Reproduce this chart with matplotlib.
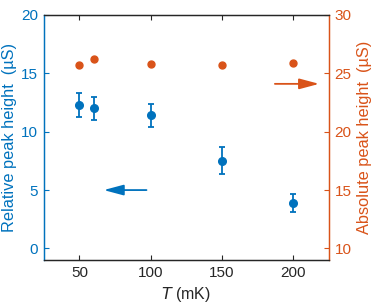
import matplotlib
matplotlib.use("Agg")
import matplotlib.pyplot as plt

plt.rcParams['font.family'] = ['Liberation Sans', 'DejaVu Sans']

T = [50, 60, 100, 150, 200]
rel_height = [12.3, 12.0, 11.4, 7.5, 3.9]
rel_err = [1.0, 1.0, 1.0, 1.15, 0.8]
T_abs = [50, 60, 100, 150, 200]
abs_height = [25.7, 26.2, 25.8, 25.7, 25.85]

blue = '#0072BD'
orange = '#D95319'
dark = '#262626'

fig = plt.figure(figsize=(3.74, 3.06), dpi=100)
ax = fig.add_axes([0.117, 0.150, 0.763, 0.801])
ax2 = ax.twinx()

ax.errorbar(T, rel_height, yerr=rel_err, fmt='o', color=blue, ms=5.5,
            elinewidth=1.3, capsize=2, capthick=1.3, zorder=3)
ax2.plot(T_abs, abs_height, 'o', color=orange, ms=5, zorder=3)

ax.set_xlim(25, 225)
ax.set_ylim(-1, 20)
ax2.set_ylim(9, 30)
ax.set_xticks([50, 100, 150, 200])
ax.set_yticks([0, 5, 10, 15, 20])
ax2.set_yticks([10, 15, 20, 25, 30])

# arrows
astyle = '-|>,head_length=0.6,head_width=0.16'
ax.annotate('', xy=(67, 5), xytext=(97, 5),
            arrowprops=dict(arrowstyle=astyle, color=blue, lw=1.3,
                            mutation_scale=20, shrinkA=0, shrinkB=0))
ax2.annotate('', xy=(218, 24.1), xytext=(187, 24.1),
             arrowprops=dict(arrowstyle=astyle, color=orange, lw=1.3,
                             mutation_scale=20, shrinkA=0, shrinkB=0))

fs = 11
ax.set_xlabel('$T$ (mK)', fontsize=11.5, color=dark, labelpad=4)
ax.set_ylabel('Relative peak height  (µS)', fontsize=11.8, color=blue, labelpad=3)
ax2.set_ylabel('Absolute peak height  (µS)', fontsize=11.8, color=orange, labelpad=4)

for a in (ax, ax2):
    a.tick_params(direction='in', length=3.5, width=0.8, labelsize=fs)
ax.tick_params(axis='x', top=True, colors=dark, pad=4)
ax.tick_params(axis='y', colors=blue, pad=4)
ax2.tick_params(axis='y', colors=orange, pad=4)

ax.spines['left'].set_color(blue)
ax2.spines['left'].set_color(blue)
ax2.spines['right'].set_color(orange)
ax.spines['right'].set_color(orange)
ax.spines['bottom'].set_color(dark)
ax2.spines['bottom'].set_color(dark)
ax.spines['top'].set_color(dark)
ax2.spines['top'].set_color(dark)
for a in (ax, ax2):
    for s in a.spines.values():
        s.set_linewidth(0.9)

fig.savefig('out.png', dpi=100)
